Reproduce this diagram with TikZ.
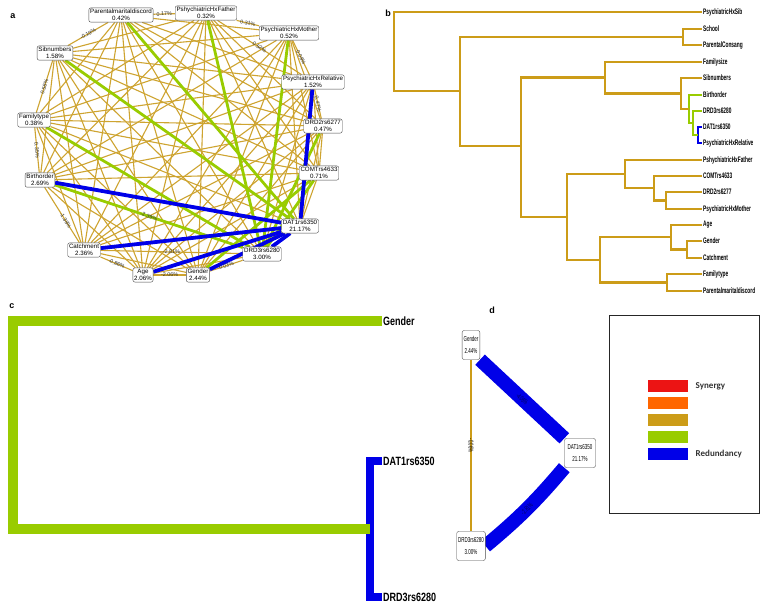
\documentclass[tikz,border=0pt]{standalone}
\usepackage{fontspec}
\setmainfont{Liberation Sans}
\newfontfamily\narrowfont[FakeStretch=0.6]{Liberation Sans}
\newfontfamily\cnarrowfont[FakeStretch=0.75]{Liberation Sans}
\newfontfamily\dnarrowfont[FakeStretch=0.62]{Liberation Sans}
\newfontfamily\calfont{Carlito}
\usetikzlibrary{backgrounds}
\pgfdeclarelayer{bottom}
\pgfsetlayers{bottom,background,main}
\definecolor{gold}{RGB}{204,156,24}
\definecolor{agold}{RGB}{206,164,48}
\definecolor{lgreen}{RGB}{153,204,0}
\definecolor{dblue}{RGB}{0,0,232}
\definecolor{lred}{RGB}{236,20,20}
\definecolor{lorange}{RGB}{255,102,0}
\tikzset{
  anode/.style={draw=black!70, rounded corners=2pt, fill=white, align=center,
    font=\fontsize{6.2}{7.2}\selectfont, inner sep=1.3pt, line width=0.4pt},
  goldedge/.style={draw=agold, line width=1.1pt},
  greenedge/.style={draw=lgreen, line width=2.8pt},
  blueedge/.style={draw=dblue, line width=3.8pt},
  alabel/.style={font=\fontsize{5.4}{6}\selectfont, sloped, inner sep=0.6pt, text=black!80},
  dg/.style={draw=gold, line width=2.6pt},
  dgr/.style={draw=lgreen, line width=2.6pt},
  dbl/.style={draw=dblue, line width=2.6pt},
  blabel/.style={anchor=west, font=\narrowfont\bfseries\fontsize{8}{9}\selectfont, inner sep=1pt},
  clabel/.style={anchor=west, font=\cnarrowfont\bfseries\fontsize{12}{13}\selectfont, inner sep=1pt},
  dnode/.style={draw=black!70, rounded corners=2pt, fill=white, align=center,
    font=\dnarrowfont\fontsize{7.2}{12}\selectfont, inner sep=1.4pt, minimum height=29pt, line width=0.4pt},
  dlab/.style={sloped, font=\dnarrowfont\fontsize{7}{8}\selectfont, inner sep=0.5pt},
  legbar/.style={minimum width=40pt, minimum height=12pt, inner sep=0pt},
  paneltag/.style={font=\bfseries\fontsize{9}{10}\selectfont}
}
\begin{document}
\begin{tikzpicture}[x=1pt,y=-1pt]
\useasboundingbox (0,0) rectangle (765,612);
\begin{pgfonlayer}{bottom}
\fill[white] (0,0) rectangle (765,612);
\end{pgfonlayer}

% ---------------- panel a ----------------
\node[paneltag] (ta) at (13,16) {a};
\node[anode] (p1) at (121,15) {Parentalmaritaldiscord\\0.42\%};
\node[anode] (p2) at (206,13) {PshychiatricHxFather\\0.32\%};
\node[anode] (p3) at (289,33) {PsychiatricHxMother\\0.52\%};
\node[anode] (p4) at (313,82) {PsychiatricHxRelative\\1.52\%};
\node[anode] (p5) at (323,126) {DRD2rs6277\\0.47\%};
\node[anode] (p6) at (319,173) {COMTrs4633\\0.71\%};
\node[anode] (p7) at (300,226) {DAT1rs6350\\21.17\%};
\node[anode] (p8) at (262,254) {DRD3rs6280\\3.00\%};
\node[anode] (p9) at (198,275) {Gender\\2.44\%};
\node[anode] (p10) at (143,275) {Age\\2.06\%};
\node[anode] (p11) at (84,250) {Catchment\\2.36\%};
\node[anode] (p12) at (40,180) {Birthorder\\2.69\%};
\node[anode] (p13) at (34,120) {Familytype\\0.38\%};
\node[anode] (p14) at (55,53) {Sibnumbers\\1.58\%};
\begin{scope}[on background layer]
  \foreach \i in {1,...,13}{
    \pgfmathtruncatemacro\s{\i+1}
    \foreach \j in {\s,...,14}{
      \draw[goldedge] (p\i) -- (p\j);
    }
  }
  \draw[greenedge] (p14) -- (p7);
  \draw[greenedge] (p1) -- (p7);
  \draw[greenedge] (p2) -- (p8);
  \draw[greenedge] (p3) -- (p8);
  \draw[greenedge] (p13) -- (p8);
  \draw[greenedge] (p12) -- (p8);
  \draw[greenedge] (p5) -- (p8);
  \draw[greenedge] (p6) -- (p8);
  \draw[greenedge] (p9) -- (p6);
  \draw[blueedge] (p12) -- (p7);
  \draw[blueedge] (p11) -- (p7);
  \draw[blueedge] (p10) -- (p7);
  \draw[blueedge] (p9) -- (p7);
  \draw[blueedge] (p8) -- (p7);
  \draw[blueedge] (p4) -- (p7);
\end{scope}
\path (p1) -- node[alabel] {0.17\%} (p2);
\path (p1) -- node[alabel] {-0.19\%} (p14);
\path (p2) -- node[alabel] {0.31\%} (p3);
\path (p3) -- node[alabel] {0.08\%} (p4);
\path (p4) -- node[alabel] {0.47\%} (p5);
\path (p14) -- node[alabel] {0.58\%} (p13);
\path (p13) -- node[alabel] {0.35\%} (p12);
\path (p12) -- node[alabel, pos=0.6] {-1.38\%} (p11);
\path (p11) -- node[alabel] {-0.86\%} (p10);
\path (p10) -- node[alabel] {-2.06\%} (p9);
\path (p9) -- node[alabel] {0.03\%} (p8);
\path (p2) -- node[alabel] {0.52\%} (p4);
\path (p11) -- node[alabel] {-2.81\%} (p8);
\path (p12) -- node[alabel, pos=0.5] {-2.39\%} (p8);

% ---------------- panel b ----------------
\node[paneltag] (tb) at (388,13) {b};
\node[blabel] (l1) at (702,12) {PsychiatricHxSib};
\node[blabel] (l2) at (702,29) {School};
\node[blabel] (l3) at (702,45) {ParentalConsang};
\node[blabel] (l4) at (702,62) {Familysize};
\node[blabel] (l5) at (702,78) {Sibnumbers};
\node[blabel] (l6) at (702,95) {Birthorder};
\node[blabel] (l7) at (702,111) {DRD3rs6280};
\node[blabel] (l8) at (702,127) {DAT1rs6350};
\node[blabel] (l9) at (702,143) {PsychiatricHxRelative};
\node[blabel] (l10) at (702,160) {PshychiatricHxFather};
\node[blabel] (l11) at (702,176) {COMTrs4633};
\node[blabel] (l12) at (702,192) {DRD2rs6277};
\node[blabel] (l13) at (702,209) {PsychiatricHxMother};
\node[blabel] (l14) at (702,225) {Age};
\node[blabel] (l15) at (702,241) {Gender};
\node[blabel] (l16) at (702,258) {Catchment};
\node[blabel] (l17) at (702,274) {Familytype};
\node[blabel] (l18) at (702,291) {Parentalmaritaldiscord};
\coordinate (n1) at (683,37);
\coordinate (nb) at (698,135);
\coordinate (ng1) at (693,123);
\coordinate (ng2) at (689,109);
\coordinate (n2) at (681,93.5);
\coordinate (n3) at (605,77.75);
\coordinate (n4) at (666,200.5);
\coordinate (n5) at (654,188);
\coordinate (n6) at (625,174);
\coordinate (n7) at (687,249.5);
\coordinate (n8) at (671,237);
\coordinate (n9) at (667,282.5);
\coordinate (n10) at (600,260);
\coordinate (n11) at (567,217);
\coordinate (n12) at (521,146);
\coordinate (n13) at (460,91);
\coordinate (nroot) at (394,51);
\draw[dg] (l2.west) -| (n1) |- (l3.west);
\draw[dbl] (l8.west) -| (nb) |- (l9.west);
\draw[dgr] (l7.west) -| (ng1) |- (nb);
\draw[dgr] (l6.west) -| (ng2) |- (ng1);
\draw[dg] (l5.west) -| (n2) |- (ng2);
\draw[dg] (l4.west) -| (n3) |- (n2);
\draw[dg] (l12.west) -| (n4) |- (l13.west);
\draw[dg] (l11.west) -| (n5) |- (n4);
\draw[dg] (l10.west) -| (n6) |- (n5);
\draw[dg] (l15.west) -| (n7) |- (l16.west);
\draw[dg] (l14.west) -| (n8) |- (n7);
\draw[dg] (l17.west) -| (n9) |- (l18.west);
\draw[dg] (n8) -| (n10) |- (n9);
\draw[dg] (n6) -| (n11) |- (n10);
\draw[dg] (n3) -| (n12) |- (n11);
\draw[dg] (n1) -| (n13) |- (n12);
\draw[dg] (l1.west) -| (nroot) |- (n13);

% ---------------- panel c ----------------
\node[paneltag] (tc) at (12,306) {c};
\node[clabel] (cg) at (382,321) {Gender};
\node[clabel] (cd) at (382,461) {DAT1rs6350};
\node[clabel] (cr) at (382,597) {DRD3rs6280};
\coordinate (cb) at (370,529);
\coordinate (cgr) at (13,425);
\draw[dblue, line width=8pt] (cd.west) -| (cb) |- (cr.west);
\draw[lgreen, line width=9.5pt] (cg.west) -| (cgr) |- (cb);

% ---------------- panel d ----------------
\node[paneltag] (td) at (492,310) {d};
\node[dnode] (dgn) at (471,345) {Gender\\2.44\%};
\node[dnode, minimum width=31pt] (dda) at (580,453) {DAT1rs6350\\21.17\%};
\node[dnode] (ddr) at (471,546) {DRD3rs6280\\3.00\%};
\begin{scope}[on background layer]
  \draw[dblue, line width=14pt] (dgn.south east) -- node[dlab, text=black!60!dblue] {-4.06\%} (dda.north west);
  \draw[dblue, line width=14pt] (ddr.east) to[bend right=5] node[dlab, text=black!60!dblue] {-2.81\%} (dda.south west);
  \draw[gold, line width=1.8pt] (dgn) -- node[dlab, text=black] {-0.06\%} (ddr);
\end{scope}

% legend
\node[draw=black!85, line width=0.8pt, minimum width=150pt, minimum height=198pt, inner sep=0pt] (lg) at (684,414) {};
\node[legbar, fill=lred] (b1) at (668,386) {};
\node[legbar, fill=lorange] (b2) at (668,403) {};
\node[legbar, fill=gold] (b3) at (668,420) {};
\node[legbar, fill=lgreen] (b4) at (668,437) {};
\node[legbar, fill=dblue] (b5) at (668,454) {};
\node[anchor=west, font=\calfont\bfseries\fontsize{9}{10}\selectfont, text=black!80] (sy) at ([xshift=4pt]b1.east) {Synergy};
\node[anchor=west, font=\calfont\bfseries\fontsize{9}{10}\selectfont, text=black!80] (rd) at ([xshift=4pt]b5.east) {Redundancy};
\end{tikzpicture}
\end{document}
